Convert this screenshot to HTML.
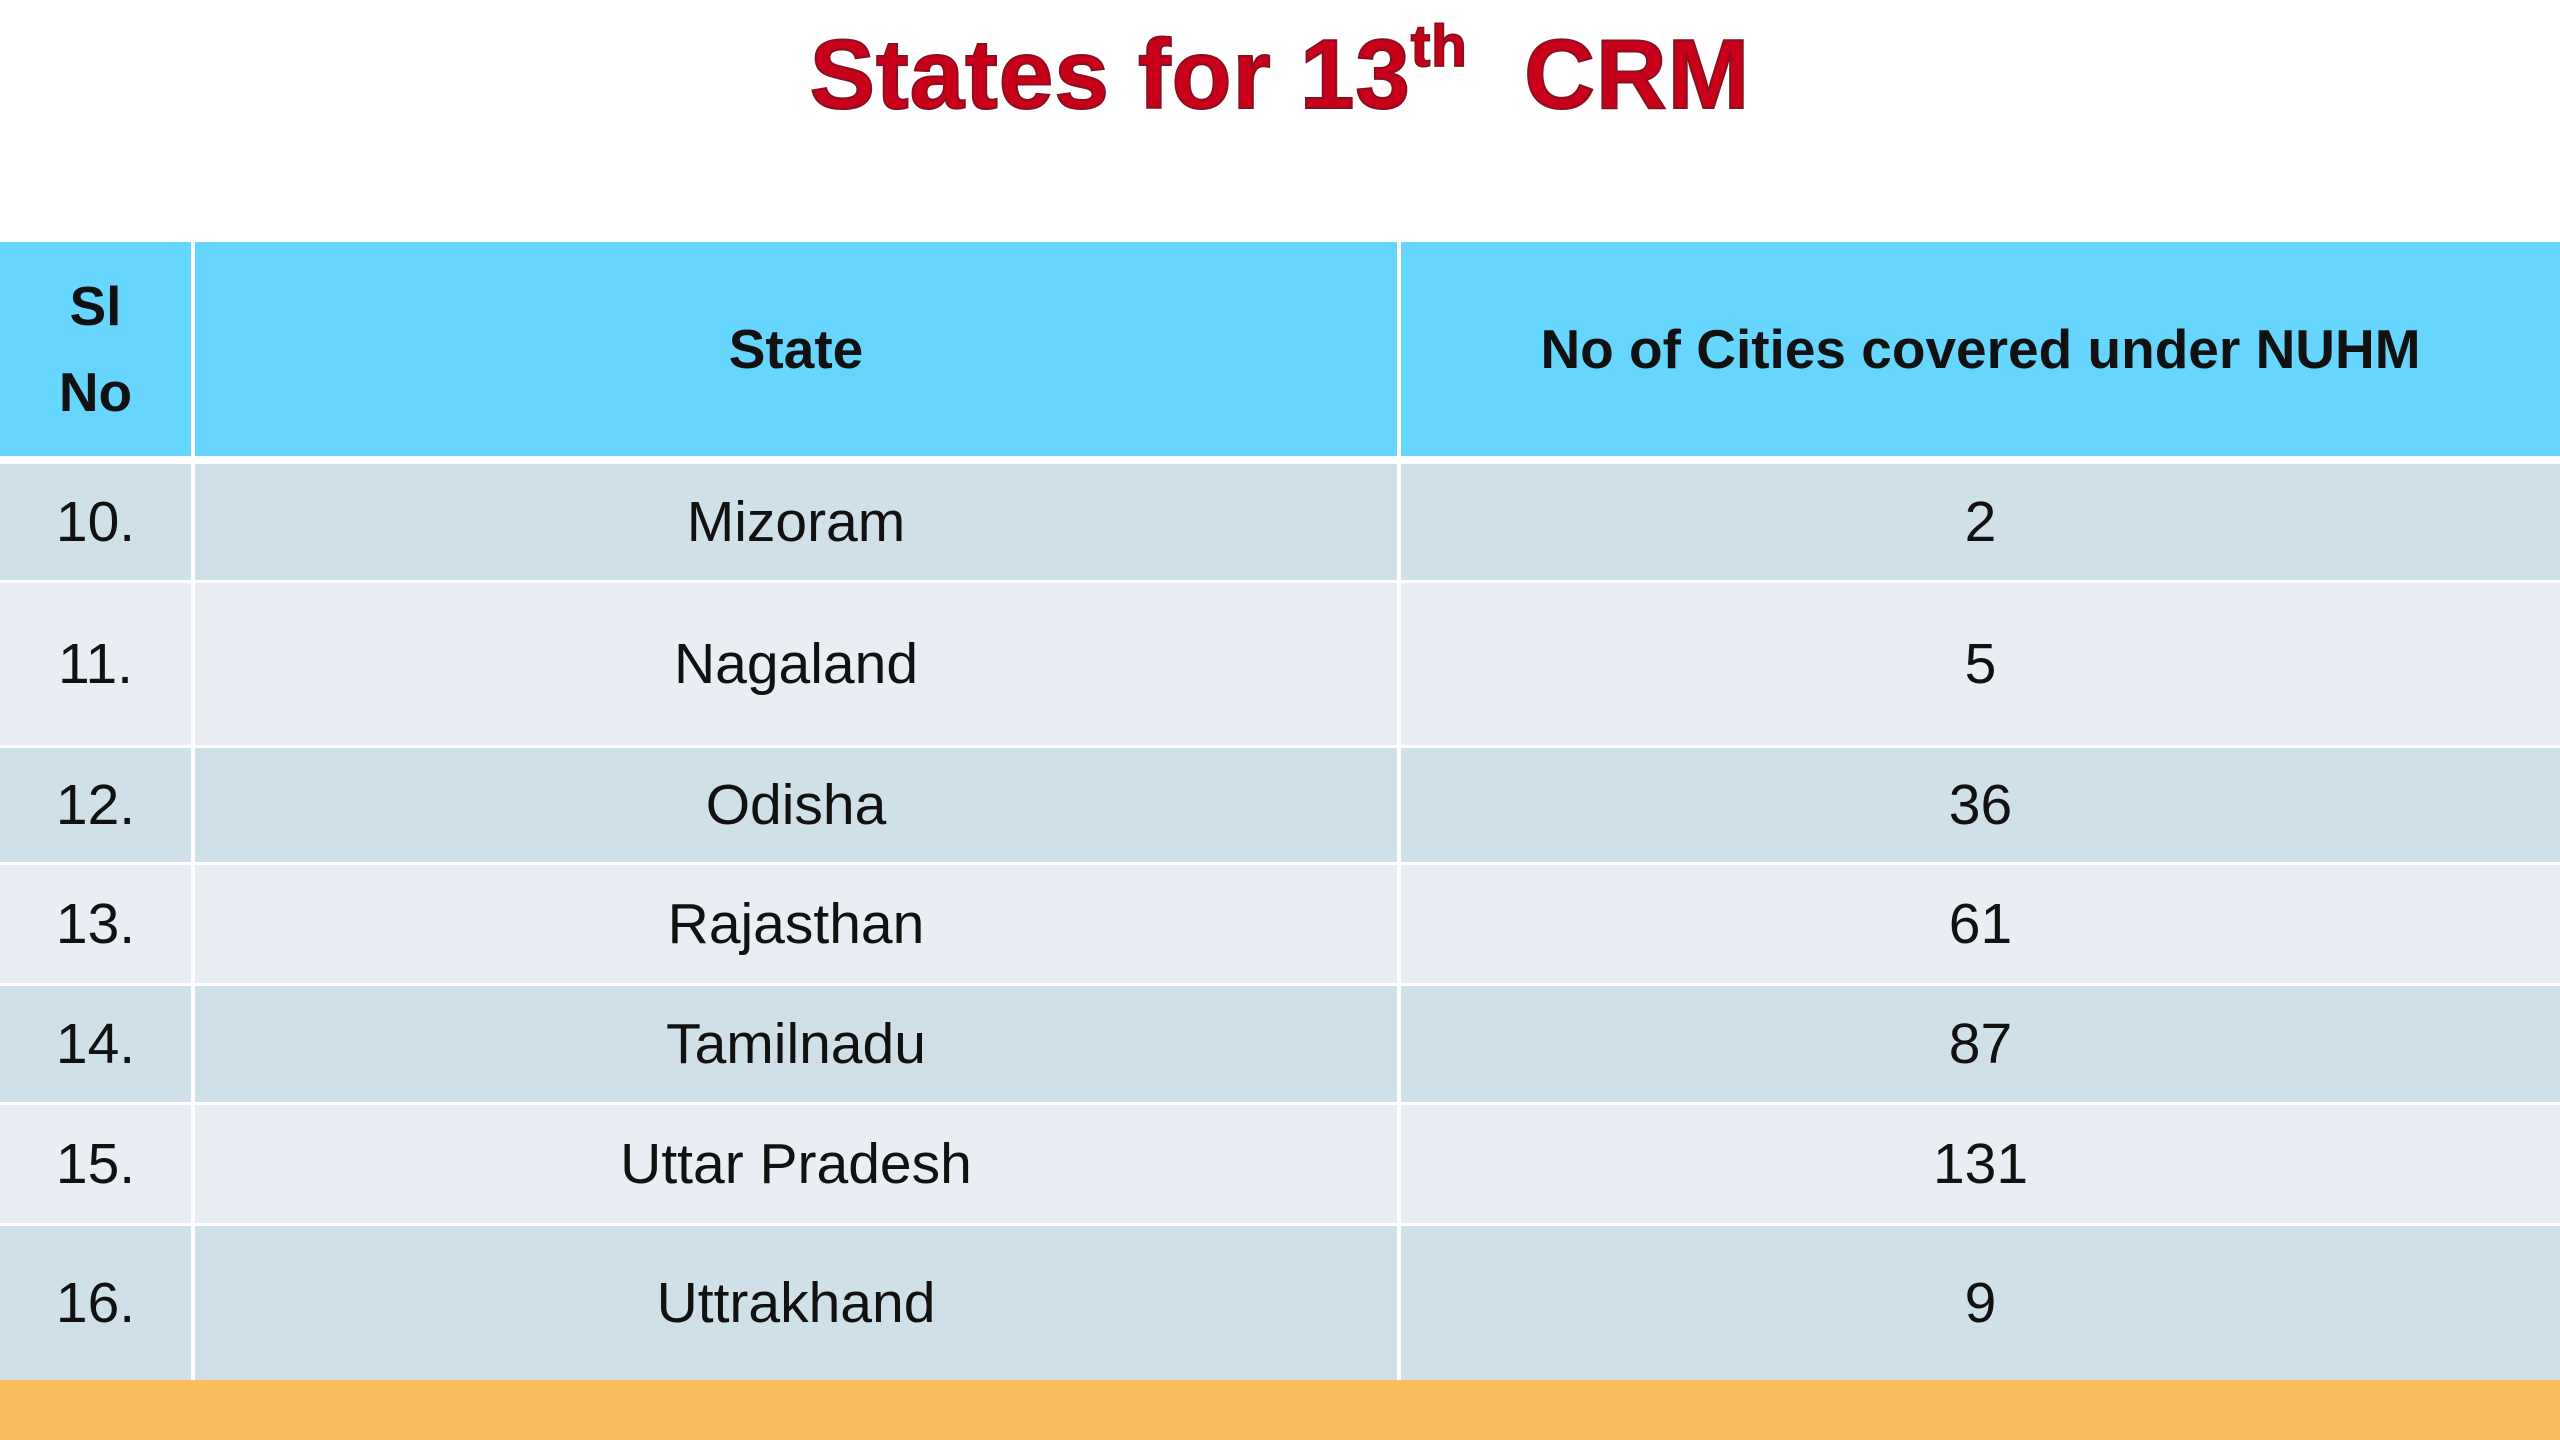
<!DOCTYPE html>
<html><head><meta charset="utf-8"><style>
body{margin:0;width:2560px;height:1440px;background:#fff;position:relative;overflow:hidden;font-family:"Liberation Sans",sans-serif}
.t{position:absolute;left:0;width:2560px;top:18px;text-align:center;font-size:98px;font-weight:bold;color:#c8001a;-webkit-text-stroke:2px #8a1020;letter-spacing:1px}
.t sup{font-size:58px;vertical-align:0;position:relative;top:-42px}
.c{position:absolute;display:flex;align-items:center;justify-content:center;font-size:57px;color:#111;text-align:center}
.h{background:#66d6ff;font-weight:bold;font-size:55px;line-height:86px}
.a{background:#cfe0e8}.b{background:#e8eef4}
.band{position:absolute;left:0;top:1380px;width:2560px;height:60px;background:#fbbd5e}
</style></head><body>
<div class="t">States for 13<sup>th</sup>&nbsp; CRM</div>
<div>
<div class="c h" style="left:0;top:242px;width:191px;height:214px">Sl<br>No</div>
<div class="c h" style="left:195px;top:242px;width:1202px;height:214px">State</div>
<div class="c h" style="left:1401px;top:242px;width:1159px;height:214px">No of Cities covered under NUHM</div>
</div>
<div id="rows"></div>
<div class="band"></div>
<script>
const slNos=["10.","11.","12.","13.","14.","15.","16."];
const states=["Mizoram","Nagaland","Odisha","Rajasthan","Tamilnadu","Uttar Pradesh","Uttrakhand"];
const cities=["2","5","36","61","87","131","9"];
const tops=[464,583,748,865,986,1105,1226];
const bots=[580,745,862,983,1102,1223,1380];
const rows=document.getElementById('rows');
for(let i=0;i<states.length;i++){
  const cls=i%2===0?'a':'b';
  const cols=[[0,191,slNos[i],'sl-no'],[195,1202,states[i],'state-name'],[1401,1159,cities[i],'city-count']];
  for(const [x,w,txt,nm] of cols){
    const d=document.createElement('div');
    d.className='c '+cls;
    d.style.left=x+'px';d.style.top=tops[i]+'px';d.style.width=w+'px';d.style.height=(bots[i]-tops[i])+'px';
    d.textContent=txt;
    
    
    rows.appendChild(d);
  }
}
</script>
</body></html>
